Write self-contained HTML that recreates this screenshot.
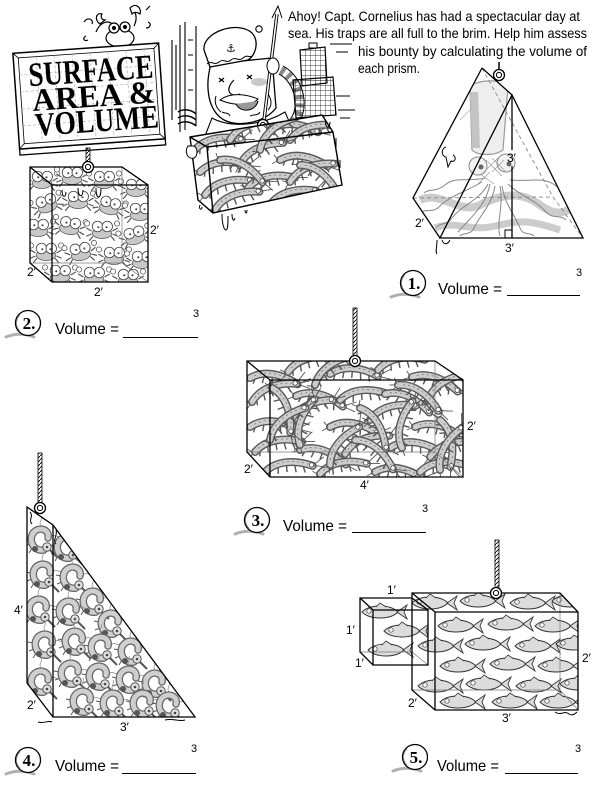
<!DOCTYPE html>
<html><head><meta charset="utf-8">
<style>
html,body{margin:0;padding:0;background:#fff;}
svg{display:block;}
</style></head><body>
<svg width="600" height="793" viewBox="0 0 600 793" xmlns="http://www.w3.org/2000/svg" font-family="'Liberation Sans', sans-serif">
<defs>
<pattern id="rp" width="4" height="4" patternUnits="userSpaceOnUse"><path d="M0 4 L4 0" stroke="#000" stroke-width="0.9"/></pattern>
<pattern id="gr" width="5" height="5" patternUnits="userSpaceOnUse"><path d="M0 0 H5 M0 0 V5" stroke="#000" stroke-width="0.7" fill="none"/></pattern>
<g id="sh">
<path d="M6 -4 l-2 9 M14 -7 l-1 10 M22 -8 l0 10 M30 -7 l1 10 M38 -5 l2 9" stroke="#555" stroke-width="1.4"/>
<path d="M0 0 C12 -10 30 -10 48 -2" fill="none" stroke="#5a5a5a" stroke-width="8" stroke-linecap="round"/>
<path d="M0 0 C12 -10 30 -10 48 -2" fill="none" stroke="#cdcdcd" stroke-width="5.2" stroke-linecap="round"/>
<path d="M4 -3 C14 -10 30 -10 44 -4" fill="none" stroke="#777" stroke-width="0.8" stroke-dasharray="2 3"/>
<circle cx="47" cy="-3" r="2.2" fill="#fff" stroke="#444" stroke-width="0.8"/>
<path d="M49 -3 l11 -7 M49 -2 l12 2 M-2 0 l-5 -4 M-2 1 l-5 4" stroke="#555" stroke-width="0.9" fill="none"/>
</g>
<g id="crab">
<path d="M-14 4 l-7 -4 M-14 8 l-7 3 M-12 11 l-5 6 M14 4 l7 -4 M14 8 l7 3 M12 11 l5 6" stroke="#555" stroke-width="1.6"/>
<circle cx="-20" cy="-6" r="3.5" fill="#fff" stroke="#555"/>
<circle cx="20" cy="-6" r="3.5" fill="#fff" stroke="#555"/>
<ellipse cx="0" cy="7" rx="13" ry="7" fill="#c8c8c8" stroke="#555"/>
<circle cx="-6" cy="-2" r="7" fill="#fff" stroke="#444" stroke-width="1.1"/>
<circle cx="7" cy="-2" r="7" fill="#fff" stroke="#444" stroke-width="1.1"/>
<circle cx="-5" cy="-1" r="1.4" fill="#444"/>
<circle cx="6" cy="-1" r="1.4" fill="#444"/>
</g>
<g id="fi">
<path d="M0 0 C8 -8 28 -8 36 0 C28 8 8 8 0 0Z" fill="#dcdcdc" stroke="#333" stroke-width="0.9"/>
<path d="M35 0 L45 -7 L42 0 L45 7Z" fill="#dcdcdc" stroke="#333" stroke-width="0.9"/>
<path d="M14 -5 L18 -9 L24 -5" fill="#dcdcdc" stroke="#333" stroke-width="0.8"/>
<circle cx="7" cy="-1" r="2.2" fill="#fff" stroke="#333" stroke-width="0.7"/>
</g>
<g id="cs">
<path d="M-8 4 l-5 2 M-6 8 l-3 5 M-9 -2 l-5 -1" stroke="#555" stroke-width="1"/>
<path d="M6 10 C-6 12 -10 -2 -4 -8 C2 -14 12 -10 10 -2" fill="none" stroke="#666" stroke-width="7.5" stroke-linecap="round"/>
<path d="M6 10 C-6 12 -10 -2 -4 -8 C2 -14 12 -10 10 -2" fill="none" stroke="#cfcfcf" stroke-width="5" stroke-linecap="round"/>
<circle cx="-3" cy="9" r="3" fill="#555"/>
<circle cx="9" cy="7" r="4.2" fill="#e0e0e0" stroke="#555"/>
<circle cx="9" cy="7" r="1.3" fill="#444"/>
<path d="M12 10 l7 7" stroke="#555" stroke-width="2"/>
<path d="M3 -14 c-3 -4 2 -6 0 -10 M14 -4 c4 -2 4 2 8 0" stroke="#888" stroke-width="0.7" fill="none"/>
</g>
<g id="ring"><circle r="5.5" fill="#fff" stroke="#000" stroke-width="1.3"/><circle r="2.6" fill="none" stroke="#000" stroke-width="1"/></g>
<g id="bd">
<path d="M-22 14 C-12 10 -2 11 6 14" stroke="#b0b0b0" stroke-width="3" fill="none" stroke-linecap="round"/>
<circle r="12.5" fill="#fff" stroke="#000" stroke-width="1.3"/>
<path d="M-8 -8 A11 11 0 0 0 -8 8" stroke="#888" stroke-width="0.8" fill="none"/>
</g>
<clipPath id="c2"><polygon points="30,167 122,167 148,185 148,282 52,282 30,263"/></clipPath>
<clipPath id="c3"><polygon points="247,361 435,361 463,380 463,477 270,477 247,452"/></clipPath>
<clipPath id="cc"><polygon points="190,137 322,115 333,132 342,185 213,213 198,200"/></clipPath>
<clipPath id="c4"><polygon points="27,507 53,525 195,717 53,717 27,683"/></clipPath>
<clipPath id="c5"><polygon points="412,593 560,593 578,612 578,710 435,710 412,690"/></clipPath>
<clipPath id="c5s"><polygon points="360,598 412,598 428,610 428,665 373,665 360,652"/></clipPath>
<clipPath id="c1"><polygon points="482,68 512,95 583,238 440,238 413,198"/></clipPath>
</defs>
<rect width="600" height="793" fill="#fff"/>

<!-- ===== Intro text ===== -->
<g font-size="14" fill="#000">
<text x="288" y="21" textLength="292" lengthAdjust="spacingAndGlyphs">Ahoy! Capt. Cornelius has had a spectacular day at</text>
<text x="288" y="38" textLength="299" lengthAdjust="spacingAndGlyphs">sea. His traps are all full to the brim. Help him assess</text>
<text x="358" y="56" textLength="229" lengthAdjust="spacingAndGlyphs">his bounty by calculating the volume of</text>
<text x="358" y="73" textLength="62" lengthAdjust="spacingAndGlyphs">each prism.</text>
</g>

<!-- ===== Crab atop sign ===== -->
<g stroke="#000" stroke-width="1.2" fill="#fff">
<path d="M96 32 C100 22 108 20 112 24" fill="none"/>
<path d="M100 24 c-6 -4 -4 -12 2 -10 c-2 3 0 6 3 6 z"/>
<path d="M134 26 C138 18 136 10 130 8" fill="none"/>
<path d="M130 8 c6 -6 12 0 10 6 c-3 -2 -6 -2 -8 0 z"/>
<ellipse cx="120" cy="38" rx="14" ry="9"/>
<circle cx="114" cy="28" r="5"/>
<circle cx="125" cy="27" r="5"/>
<circle cx="114" cy="28" r="1.5" fill="#000"/>
<circle cx="125" cy="27" r="1.5" fill="#000"/>
<path d="M84 22 c4 -6 10 -2 8 2 M88 40 c-4 2 -6 -2 -2 -4 M148 22 c4 2 2 6 -2 6 M146 10 l4 -4" fill="none"/>
</g>

<!-- ===== Title sign ===== -->
<g transform="rotate(-4 90 95)">
<rect x="16" y="144" width="146" height="6" fill="#fff" stroke="#000" stroke-width="1.3"/>
<rect x="16" y="48" width="146" height="96" fill="#fff" stroke="#000" stroke-width="1.5"/>
<rect x="21" y="53" width="136" height="86" fill="none" stroke="#000" stroke-width="0.8"/>
<path d="M16 48 L21 53 M162 48 L157 53 M162 144 L157 139 M16 144 L21 139" stroke="#000" stroke-width="0.8"/>
<g stroke="#bbb" stroke-width="0.8" stroke-dasharray="3 2" fill="none">
<path d="M39 53 V139 M57 53 V139 M75 53 V139 M93 53 V139 M111 53 V139 M129 53 V139 M147 53 V139"/>
<path d="M21 70 H157 M21 87 H157 M21 104 H157 M21 121 H157"/>
</g>
<g font-family="'Liberation Serif', serif" font-weight="bold" fill="#000">
<text x="30" y="82" font-size="34" textLength="125" lengthAdjust="spacingAndGlyphs">SURFACE</text>
<text x="32" y="107" font-size="32" textLength="123" lengthAdjust="spacingAndGlyphs">AREA &amp;</text>
<text x="33" y="132" font-size="33" textLength="124" lengthAdjust="spacingAndGlyphs">VOLUME</text>
</g>
</g>

<!-- ===== Cube (problem 2) ===== -->
<rect x="86" y="148" width="4" height="15" fill="url(#rp)" stroke="#000" stroke-width="0.8"/>
<g clip-path="url(#c2)">
<use href="#crab" transform="translate(42,178) scale(.75)"/>
<use href="#crab" transform="translate(72,174) scale(.75)"/>
<use href="#crab" transform="translate(104,178) scale(.75)"/>
<use href="#crab" transform="translate(136,186) scale(.75)"/>
<use href="#crab" transform="translate(46,202) scale(.75) rotate(-20)"/>
<use href="#crab" transform="translate(78,198) scale(.75)"/>
<use href="#crab" transform="translate(110,204) scale(.75) rotate(15)"/>
<use href="#crab" transform="translate(140,210) scale(.75)"/>
<use href="#crab" transform="translate(38,226) scale(.75)"/>
<use href="#crab" transform="translate(70,224) scale(.75) rotate(10)"/>
<use href="#crab" transform="translate(102,228) scale(.75)"/>
<use href="#crab" transform="translate(134,234) scale(.75) rotate(-15)"/>
<use href="#crab" transform="translate(46,250) scale(.75)"/>
<use href="#crab" transform="translate(80,250) scale(.75) rotate(-10)"/>
<use href="#crab" transform="translate(114,254) scale(.75)"/>
<use href="#crab" transform="translate(142,258) scale(.75)"/>
<use href="#crab" transform="translate(60,272) scale(.75)"/>
<use href="#crab" transform="translate(94,274) scale(.75)"/>
<use href="#crab" transform="translate(128,276) scale(.75)"/>
</g>
<g fill="none" stroke="#777" stroke-width="0.7">
<path d="M122 167 V263 M30 263 H122 L148 282"/>
</g>
<g fill="none" stroke="#000" stroke-width="1.3">
<polygon points="30,167 122,167 148,185 148,282 52,282 30,263"/>
<path d="M30 167 L52 185 H148 M52 185 V282"/>
</g>
<path d="M62 190 c0 8 4 8 4 2 M78 188 c0 10 5 10 5 2 M96 188 c0 12 5 12 5 0" stroke="#000" stroke-width="1" fill="#fff"/>
<use href="#ring" x="88" y="167"/>
<g font-size="12" fill="#000">
<text x="150" y="234">2′</text>
<text x="27" y="276">2′</text>
<text x="94" y="296">2′</text>
</g>

<!-- ===== Captain illustration ===== -->
<g stroke="#000" stroke-width="1.1" fill="none">
<path d="M180 25 V132 M185 22 V130 M196 26 V126"/>
<path d="M172 40 V120 M176 45 V110"/>
<path d="M188 40 h5 M188 55 h5 M188 70 h5 M188 90 h5"/>
<path d="M178 112 c6 -4 14 -2 18 2 M178 118 c6 -4 14 -2 18 2 M178 124 c6 -4 14 -2 18 2" stroke-width="1.4"/>
<circle cx="259" cy="29" r="3.2"/>
<path d="M330 44 H352 M336 52 H348 M336 96 H350 M338 110 H355 M340 118 H350"/>
</g>
<path d="M281 70 C300 80 306 110 292 124" stroke="#000" stroke-width="10" fill="none"/>
<path d="M281 70 C300 80 306 110 292 124" stroke="#fff" stroke-width="8" fill="none"/>
<path d="M281 70 C300 80 306 110 292 124" stroke="#888" stroke-width="8" fill="none" stroke-dasharray="4 4"/>
<path d="M212 118 C230 128 262 126 285 112 L292 128 L205 136 Z" fill="#fff" stroke="#000" stroke-width="1.1"/>
<path d="M211 64 C205 85 207 110 224 120 C240 128 265 122 276 108 L272 58 Z" fill="#fff" stroke="#000" stroke-width="1.3"/>
<path d="M216 96 c-2 6 0 12 5 16 M268 94 c4 6 4 12 0 16 M222 112 c4 2 6 0 8 4 M250 116 c4 -2 8 0 10 -4" stroke="#000" fill="none"/>
<ellipse cx="259" cy="82" rx="8" ry="4" fill="#c8c8c8"/>
<path d="M219 78 l5 4 M224 78 l-5 4 M247 75 l5 4 M252 75 l-5 4" stroke="#000" stroke-width="1.2"/>
<path d="M234 80 C224 90 230 98 240 94" stroke="#000" fill="none" stroke-width="1.2"/>
<path d="M220 100 C230 92 246 94 258 99 C252 106 234 106 220 100Z" fill="#fff" stroke="#000"/>
<path d="M236 104 C241 114 256 111 258 101" fill="#999" stroke="#000"/>
<path d="M204 50 C202 32 238 20 252 33 C260 42 255 56 248 60 L210 67 Z" fill="#fff" stroke="#000" stroke-width="1.3"/>
<path d="M207 64 c4 -4 8 2 12 -2 s8 2 12 -2 s8 2 12 -2 s6 0 9 -2" stroke="#000" fill="none"/>
<text x="226" y="52" font-family="'DejaVu Sans', sans-serif" font-size="11" fill="#000">⚓</text>
<path d="M277 14 L264 120" stroke="#000" stroke-width="3.4"/>
<path d="M277 14 L264 120" stroke="#fff" stroke-width="1.5"/>
<path d="M272 18 L278 6 L282 18" stroke="#000" fill="none"/>
<ellipse cx="273" cy="66" rx="6" ry="8" fill="#fff" stroke="#000"/>
<use href="#ring" x="263" y="125"/>
<polygon points="300,50 325,47 327,83 302,86" fill="url(#gr)" stroke="#000" stroke-width="1.2"/>
<polygon points="293,80 333,77 336,115 296,118" fill="url(#gr)" stroke="#000" stroke-width="1.2"/>
<rect x="309" y="43" width="8" height="5" fill="#fff" stroke="#000"/>
<g clip-path="url(#cc)">
<rect x="185" y="110" width="160" height="105" fill="#fff"/>
<use href="#sh" transform="translate(195,150) rotate(-10)"/>
<use href="#sh" transform="translate(230,140) rotate(-20)"/>
<use href="#sh" transform="translate(270,130) rotate(5)"/>
<use href="#sh" transform="translate(290,140) rotate(-15)"/>
<use href="#sh" transform="translate(200,172) rotate(-5)"/>
<use href="#sh" transform="translate(240,165) rotate(-25)"/>
<use href="#sh" transform="translate(280,160) rotate(10)"/>
<use href="#sh" transform="translate(205,195) rotate(-15)"/>
<use href="#sh" transform="translate(248,188) rotate(-10)"/>
<use href="#sh" transform="translate(290,182) rotate(-20)"/>
<use href="#sh" transform="translate(215,210) rotate(-20)"/>
<use href="#sh" transform="translate(270,205) rotate(-15)"/>
<use href="#sh" transform="translate(220,160) rotate(30)"/>
<use href="#sh" transform="translate(300,165) rotate(40)"/>
<use href="#sh" transform="translate(260,150) rotate(-40)"/>
</g>
<g fill="none" stroke="#000" stroke-width="1.4">
<polygon points="190,137 322,115 333,132 342,185 213,213 198,200"/>
<path d="M190 137 L207 147 L333 132 M207 147 L213 213"/>
</g>
<path d="M188 146 c-4 6 0 14 6 12 c4 -2 4 -10 0 -12z" fill="#fff" stroke="#000"/>
<path d="M222 214 c0 10 2 16 4 16 c2 0 2 -6 2 -14 M232 214 c0 6 2 8 3 4 M200 205 c-2 4 2 6 2 2 M245 210 c0 4 2 4 2 0" stroke="#000" fill="#fff"/>
<path d="M326 120 c-2 8 4 10 4 2 M336 138 v10 M340 160 v8" stroke="#000" fill="none"/>

<!-- ===== Problem 1 ===== -->
<g clip-path="url(#c1)">
<path d="M420 200 C440 190 460 215 480 205 S520 190 540 205 S570 210 580 200" stroke="#ccc" stroke-width="8" fill="none"/>
<path d="M435 228 C455 220 470 232 495 226 S530 220 560 230" stroke="#ccc" stroke-width="7" fill="none"/>
<path d="M470 88 C470 80 505 78 508 86 L503 150 C495 156 478 156 472 150 Z" fill="#eee" stroke="#999" stroke-width="1.2"/>
<path d="M474 92 L476 148" stroke="#c4c4c4" stroke-width="8"/>
<circle cx="478" cy="166" r="9" fill="#f2f2f2" stroke="#888"/>
<circle cx="506" cy="163" r="9" fill="#f2f2f2" stroke="#888"/>
<circle cx="481" cy="167" r="2.5" fill="#666"/>
<circle cx="509" cy="164" r="2.5" fill="#666"/>
<path d="M486 160 l16 16 M492 158 l14 14 M498 158 l-14 14 M504 160 l-12 12 M480 174 l14 10 M490 172 l-12 12" stroke="#999" stroke-width="0.7"/>
<g stroke="#888" stroke-width="1" fill="none">
<path d="M485 178 C470 182 455 176 445 185 C435 193 430 188 424 193"/>
<path d="M482 182 C465 192 450 196 440 206 C432 214 428 208 422 212"/>
<path d="M488 184 C480 200 462 205 452 218 C446 226 440 222 436 228"/>
<path d="M495 186 C492 205 480 215 474 228 C470 236 464 232 460 236"/>
<path d="M502 186 C505 205 515 215 520 228 C523 236 530 232 534 236"/>
<path d="M508 184 C520 196 536 200 546 212 C554 220 560 214 566 220"/>
<path d="M510 180 C528 182 545 176 556 186 C566 194 570 188 576 194"/>
<path d="M490 184 C486 206 470 218 458 232"/>
<path d="M500 186 C504 206 496 222 500 236"/>
</g>
<path d="M430 140 l20 -20 M440 130 l20 -20 M470 110 l-10 10 M535 130 l10 10 M540 120 l10 10" stroke="#aaa" stroke-width="0.7"/>
</g>
<g fill="none" stroke="#888" stroke-width="0.9" stroke-dasharray="4 3">
<path d="M482 68 L553 197 M413 198 L553 197 M553 197 L583 238"/>
</g>
<g fill="none" stroke="#000" stroke-width="1.3">
<path d="M482 68 L413 198 L440 238 M482 68 L512 95"/>
<polygon points="512,95 583,238 440,238"/>
<path d="M512 95 V150 M512 166 V238"/>
<path d="M505 238 V230 H512" stroke-width="1"/>
</g>
<path d="M446 147 c-6 2 -4 10 0 10 l2 10 l3 -6 c4 2 6 -4 2 -6" fill="#fff" stroke="#000"/>
<path d="M437 240 c0 8 -2 12 0 14 M442 240 c2 6 6 4 8 0" stroke="#000" fill="none"/>
<path d="M499 62 V70" stroke="#000" stroke-width="1.5"/>
<use href="#ring" x="499" y="75"/>
<g font-size="12" fill="#000">
<text x="507" y="162">3′</text>
<text x="415" y="227">2′</text>
<text x="505" y="252">3′</text>
</g>

<!-- ===== Problem 3 ===== -->
<rect x="353" y="308" width="4" height="48" fill="url(#rp)" stroke="#000" stroke-width="0.8"/>
<g clip-path="url(#c3)">
<use href="#sh" transform="translate(250,378) rotate(10)"/>
<use href="#sh" transform="translate(288,372) rotate(-15)"/>
<use href="#sh" transform="translate(330,374) rotate(5)"/>
<use href="#sh" transform="translate(378,370) rotate(-10)"/>
<use href="#sh" transform="translate(412,377) rotate(20)"/>
<use href="#sh" transform="translate(252,402) rotate(-20)"/>
<use href="#sh" transform="translate(296,396) rotate(15)"/>
<use href="#sh" transform="translate(340,400) rotate(-5)"/>
<use href="#sh" transform="translate(385,394) rotate(25)"/>
<use href="#sh" transform="translate(428,400) rotate(-30)"/>
<use href="#sh" transform="translate(250,427) rotate(5)"/>
<use href="#sh" transform="translate(290,422) rotate(-25)"/>
<use href="#sh" transform="translate(330,427) rotate(10)"/>
<use href="#sh" transform="translate(370,420) rotate(-15)"/>
<use href="#sh" transform="translate(415,427) rotate(15)"/>
<use href="#sh" transform="translate(255,452) rotate(-10)"/>
<use href="#sh" transform="translate(300,450) rotate(20)"/>
<use href="#sh" transform="translate(345,454) rotate(-20)"/>
<use href="#sh" transform="translate(390,448) rotate(5)"/>
<use href="#sh" transform="translate(430,457) rotate(-15)"/>
<use href="#sh" transform="translate(265,472) rotate(-5)"/>
<use href="#sh" transform="translate(320,474) rotate(-10)"/>
<use href="#sh" transform="translate(375,472) rotate(10)"/>
<use href="#sh" transform="translate(420,472) rotate(-5)"/>
<use href="#sh" transform="translate(300,445) rotate(-70)"/>
<use href="#sh" transform="translate(402,448) rotate(-75)"/>
<use href="#sh" transform="translate(360,408) rotate(60)"/>
<use href="#sh" transform="translate(272,388) rotate(70)"/>
<use href="#sh" transform="translate(440,420) rotate(80)"/>
<use href="#sh" transform="translate(315,385) rotate(-35)"/>
<use href="#sh" transform="translate(398,385) rotate(35)"/>
<use href="#sh" transform="translate(270,440) rotate(-40)"/>
<use href="#sh" transform="translate(355,440) rotate(40)"/>
<use href="#sh" transform="translate(330,465) rotate(-50)"/>
<use href="#sh" transform="translate(440,470) rotate(-60)"/>
</g>
<g fill="none" stroke="#777" stroke-width="0.7">
<path d="M435 361 V452 M247 452 H435 L463 477"/>
</g>
<g fill="none" stroke="#000" stroke-width="1.3">
<polygon points="247,361 435,361 463,380 463,477 270,477 247,452"/>
<path d="M247 361 L270 380 H463 M270 380 V477"/>
</g>
<use href="#ring" x="355" y="361"/>
<g font-size="12" fill="#000">
<text x="467" y="430">2′</text>
<text x="244" y="473">2′</text>
<text x="360" y="489">4′</text>
</g>

<!-- ===== Problem 4 ===== -->
<rect x="38" y="453" width="4" height="50" fill="url(#rp)" stroke="#000" stroke-width="0.8"/>
<g clip-path="url(#c4)">
<use href="#cs" transform="translate(38,540)"/>
<use href="#cs" transform="translate(40,575)"/>
<use href="#cs" transform="translate(36,610)"/>
<use href="#cs" transform="translate(42,645)"/>
<use href="#cs" transform="translate(38,682)"/>
<use href="#cs" transform="translate(64,548)"/>
<use href="#cs" transform="translate(70,578)"/>
<use href="#cs" transform="translate(90,602)"/>
<use href="#cs" transform="translate(66,612)"/>
<use href="#cs" transform="translate(108,624)"/>
<use href="#cs" transform="translate(72,642)"/>
<use href="#cs" transform="translate(98,648)"/>
<use href="#cs" transform="translate(128,652)"/>
<use href="#cs" transform="translate(68,674)"/>
<use href="#cs" transform="translate(96,677)"/>
<use href="#cs" transform="translate(126,680)"/>
<use href="#cs" transform="translate(152,684)"/>
<use href="#cs" transform="translate(80,702)"/>
<use href="#cs" transform="translate(110,704)"/>
<use href="#cs" transform="translate(140,704)"/>
<use href="#cs" transform="translate(166,706)"/>
</g>
<g fill="none" stroke="#000" stroke-width="1.3">
<path d="M27 507 L53 525 L195 717 H53 L27 683 Z M27 507 V683 M53 525 V717"/>
</g>
<path d="M30 512 c4 4 -2 8 2 12 M56 530 c2 6 -4 10 0 14" stroke="#000" fill="none"/>
<path d="M38 722 c6 2 10 -2 14 0 M165 720 c8 -2 14 2 20 0" stroke="#000" fill="none"/>
<use href="#ring" x="40" y="508"/>
<g font-size="12" fill="#000">
<text x="14" y="614">4′</text>
<text x="27" y="709">2′</text>
<text x="120" y="731">3′</text>
</g>

<!-- ===== Problem 5 ===== -->
<rect x="495" y="540" width="4" height="48" fill="url(#rp)" stroke="#000" stroke-width="0.8"/>
<g clip-path="url(#c5)">
<use href="#fi" transform="translate(412,603)"/>
<use href="#fi" transform="translate(460,601)"/>
<use href="#fi" transform="translate(510,603)"/>
<use href="#fi" transform="translate(552,601)"/>
<use href="#fi" transform="translate(438,626)"/>
<use href="#fi" transform="translate(488,624)"/>
<use href="#fi" transform="translate(535,626)"/>
<use href="#fi" transform="translate(418,646)"/>
<use href="#fi" transform="translate(465,644)"/>
<use href="#fi" transform="translate(515,646)"/>
<use href="#fi" transform="translate(556,644)"/>
<use href="#fi" transform="translate(440,666)"/>
<use href="#fi" transform="translate(490,664)"/>
<use href="#fi" transform="translate(538,666)"/>
<use href="#fi" transform="translate(418,686)"/>
<use href="#fi" transform="translate(466,684)"/>
<use href="#fi" transform="translate(516,686)"/>
<use href="#fi" transform="translate(560,684)"/>
<use href="#fi" transform="translate(440,702)"/>
<use href="#fi" transform="translate(492,702)"/>
<use href="#fi" transform="translate(540,702)"/>
</g>
<g clip-path="url(#c5s)">
<use href="#fi" transform="translate(362,612)"/>
<use href="#fi" transform="translate(384,631)"/>
<use href="#fi" transform="translate(368,650)"/>
</g>
<g fill="none" stroke="#777" stroke-width="0.7">
<path d="M560 593 V690 M412 690 H560 L578 710 M412 598 V652 M360 652 H412 L428 665"/>
</g>
<g fill="none" stroke="#000" stroke-width="1.3">
<polygon points="412,593 560,593 578,612 578,710 435,710 412,690"/>
<path d="M412 593 L435 612 H578 M435 612 V710"/>
<polygon points="360,598 412,598 428,610 428,665 373,665 360,652"/>
<path d="M360 598 L373 610 H428 M373 610 V665"/>
</g>
<path d="M555 712 c6 4 10 -2 14 2 c3 2 6 0 8 -2" stroke="#000" fill="none"/>
<use href="#ring" x="496" y="593"/>
<g font-size="12" fill="#000">
<text x="387" y="594">1′</text>
<text x="346" y="634">1′</text>
<text x="355" y="667">1′</text>
<text x="582" y="662">2′</text>
<text x="408" y="707">2′</text>
<text x="502" y="722">3′</text>
</g>

<!-- ===== Answer lines ===== -->
<g font-family="'Liberation Serif', serif" font-weight="bold" font-size="17" text-anchor="middle" fill="#000">
<use href="#bd" x="413" y="283"/><text x="414" y="289">1.</text>
<use href="#bd" x="28" y="323"/><text x="29" y="329">2.</text>
<use href="#bd" x="257" y="520"/><text x="258" y="526">3.</text>
<use href="#bd" x="28" y="760"/><text x="29" y="766">4.</text>
<use href="#bd" x="415" y="757"/><text x="416" y="763">5.</text>
</g>
<g font-size="16" fill="#000">
<text x="438" y="294" textLength="64" lengthAdjust="spacingAndGlyphs">Volume =</text>
<text x="55" y="334" textLength="64" lengthAdjust="spacingAndGlyphs">Volume =</text>
<text x="283" y="531" textLength="64" lengthAdjust="spacingAndGlyphs">Volume =</text>
<text x="55" y="771" textLength="64" lengthAdjust="spacingAndGlyphs">Volume =</text>
<text x="437" y="771" textLength="62" lengthAdjust="spacingAndGlyphs">Volume =</text>
</g>
<g stroke="#000" stroke-width="1.1">
<path d="M507 295.5 H580 M123 337.5 H198 M352 532.5 H426 M122 773.5 H196 M505 773.5 H578"/>
</g>
<g font-size="11" fill="#000">
<text x="576" y="276">3</text>
<text x="193" y="317">3</text>
<text x="422" y="512">3</text>
<text x="191" y="752">3</text>
<text x="575" y="752">3</text>
</g>
</svg>
</body></html>
